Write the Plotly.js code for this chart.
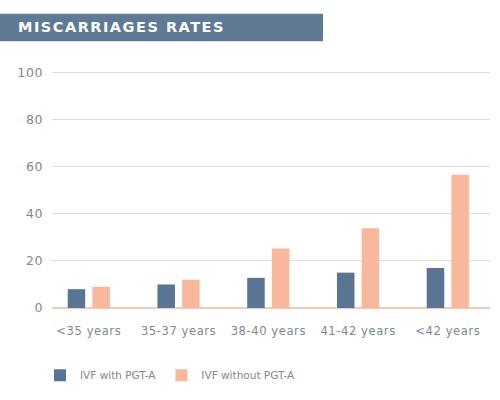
<!DOCTYPE html>
<html>
<head>
<meta charset="utf-8">
<script src="https://cdn.plot.ly/plotly-3.0.1.min.js"></script>
<style>
  html, body { margin: 0; padding: 0; background: #fff; }
  #chart { width: 500px; height: 400px; }
  /* the original uses widely spaced lettering */
  #chart .gtitle { letter-spacing: 1.5px; }
  #chart .xtick text, #chart .ytick text { letter-spacing: 0.6px; }
</style>
</head>
<body>
<div id="chart"></div>
<script>
// age groups and miscarriage rates (%)
const ageGroups = ['<35 years', '35-37 years', '38-40 years', '41-42 years', '<42 years']
const withPgtA = [8, 10, 12.8, 15, 17]
const withoutPgtA = [9, 12, 25.3, 33.8, 56.5]
const yTicks = [0, 20, 40, 60, 80, 100]

const blue = '#5a7594'
const peach = '#f8b89b'
const grey = '#7c8797'

// plot area in pixels, used to place the banner in paper units
const margin = { l: 52, r: 10, t: 70, b: 89 }
const plotW = 500 - margin.l - margin.r
const plotH = 400 - margin.t - margin.b
const px = x => (x - margin.l) / plotW
const py = y => (400 - margin.b - y) / plotH

const traces = [
  {
    x: ageGroups,
    y: withPgtA,
    name: 'IVF with PGT-A',
    type: 'bar',
    marker: { color: blue },
    hoverinfo: 'none'
  },
  {
    x: ageGroups,
    y: withoutPgtA,
    name: 'IVF without PGT-A',
    type: 'bar',
    marker: { color: peach },
    hoverinfo: 'none'
  }
]

const layout = {
  width: 500,
  height: 400,
  margin: margin,
  paper_bgcolor: '#fff',
  plot_bgcolor: '#fff',
  font: { family: 'DejaVu Sans, sans-serif', color: grey, size: 12 },
  barmode: 'group',
  bargap: 0.45,
  bargroupgap: 0.29,
  showlegend: true,
  legend: {
    orientation: 'h',
    x: px(40),
    xanchor: 'left',
    y: py(379),
    yanchor: 'middle',
    font: { size: 10.5, color: grey },
    itemwidth: 30,
    traceorder: 'normal'
  },
  title: {
    text: 'MISCARRIAGES RATES',
    x: 18 / 500,
    xanchor: 'left',
    xref: 'container',
    y: 1 - 27 / 400,
    yanchor: 'middle',
    yref: 'container',
    font: { family: 'DejaVu Sans, sans-serif', size: 14.5, color: '#ffffff', weight: 'bold' }
  },
  shapes: [
    {
      type: 'rect',
      xref: 'paper',
      yref: 'paper',
      x0: px(0),
      x1: px(323),
      y0: py(41),
      y1: py(13),
      fillcolor: '#5f7a95',
      line: { width: 0 },
      layer: 'below'
    }
  ],
  xaxis: {
    type: 'category',
    range: [-0.41, 4.47],
    showgrid: false,
    showline: false,
    zeroline: false,
    ticks: '',
    ticklabelstandoff: 14,
    tickfont: { size: 11.5, color: grey },
    fixedrange: true
  },
  yaxis: {
    range: [0, 101],
    tickvals: yTicks,
    ticktext: yTicks.map(String),
    showgrid: true,
    gridcolor: '#dcdcdc',
    gridwidth: 1,
    zeroline: true,
    zerolinecolor: '#f6c9b2',
    zerolinewidth: 1.5,
    showline: false,
    ticks: '',
    ticklabelstandoff: 8,
    tickfont: { size: 12.5, color: grey },
    fixedrange: true
  }
}

Plotly.newPlot('chart', traces, layout, { displayModeBar: false, staticPlot: true })
</script>
</body>
</html>
